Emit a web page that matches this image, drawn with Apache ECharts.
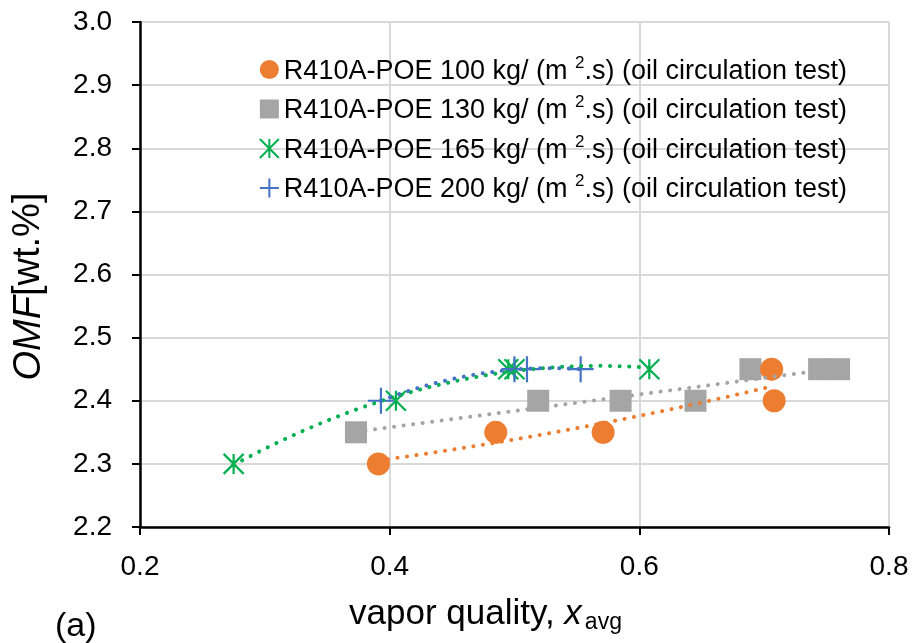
<!DOCTYPE html>
<html>
<head>
<meta charset="utf-8">
<script src="https://cdn.jsdelivr.net/npm/echarts@6/dist/echarts.min.js"></script>
<style>
html,body{margin:0;padding:0;background:#fff;}
#chart{width:914px;height:643px;}
</style>
</head>
<body>
<div id="chart"></div>
<script>
// ---- data ----
const fluxes = ['100', '130', '165', '200'];
const x100 = [0.391, 0.485, 0.571, 0.706, 0.708];
const y100 = [2.30, 2.35, 2.35, 2.45, 2.40];
const x130 = [0.373, 0.519, 0.585, 0.645, 0.689, 0.744, 0.760];
const y130 = [2.35, 2.40, 2.40, 2.40, 2.45, 2.45, 2.45];
const x165 = [0.275, 0.405, 0.495, 0.500, 0.608];
const y165 = [2.30, 2.40, 2.45, 2.45, 2.45];
const x200 = [0.393, 0.500, 0.510, 0.553];
const y200 = [2.40, 2.45, 2.45, 2.45];
const trendOrder = [2, 1, 2, 2];
const xTicks = [0.2, 0.4, 0.6, 0.8];
const yTicks = [2.2, 2.3, 2.4, 2.5, 2.6, 2.7, 2.8, 2.9, 3.0];

const colors = ['#ED7D31', '#A5A5A5', '#00B050', '#4472C4'];
const FONT = 'Liberation Sans, Arial, sans-serif';

function zip(xs, ys){ return xs.map((x,i)=>[x, ys[i]]); }

// least squares polynomial fit (Excel-style trendline)
function polyfit(xs, ys, order){
  const n = order + 1;
  const A = [];
  for (let r=0;r<n;r++){ A.push(new Array(n+1).fill(0)); }
  for (let i=0;i<xs.length;i++){
    for (let r=0;r<n;r++){
      for (let c=0;c<n;c++) A[r][c] += Math.pow(xs[i], r+c);
      A[r][n] += ys[i]*Math.pow(xs[i], r);
    }
  }
  for (let i=0;i<n;i++){
    let p=i; for (let k=i+1;k<n;k++) if (Math.abs(A[k][i])>Math.abs(A[p][i])) p=k;
    [A[i],A[p]]=[A[p],A[i]];
    for (let k=i+1;k<n;k++){ const f=A[k][i]/A[i][i]; for (let j=i;j<=n;j++) A[k][j]-=f*A[i][j]; }
  }
  const coef=new Array(n).fill(0);
  for (let i=n-1;i>=0;i--){ let s=A[i][n]; for (let j=i+1;j<n;j++) s-=A[i][j]*coef[j]; coef[i]=s/A[i][i]; }
  return coef;
}
function trend(xs, ys, order){
  const c = polyfit(xs, ys, order);
  const lo = Math.min(...xs), hi = Math.max(...xs);
  const pts = [];
  for (let i=0;i<=60;i++){
    const x = lo + (hi-lo)*i/60;
    let y = 0; for (let k=0;k<c.length;k++) y += c[k]*Math.pow(x,k);
    pts.push([x,y]);
  }
  return pts;
}

const xsAll = [x100, x130, x165, x200];
const ysAll = [y100, y130, y165, y200];
const names = fluxes.map(f => 'R410A-POE ' + f);

const starPath = 'path://M0,0L10,10M10,0L0,10M5,0L5,10';
const plusPath = 'path://M0,5L10,5M5,0L5,10';
const symbols = ['circle', 'rect', starPath, plusPath];
const symSizes = [23, 22, [20, 20], [26, 26]];
const zs = [5, 4, 3, 3];

const series = [];
for (let i=0;i<4;i++){
  const outline = i >= 2;
  series.push({
    name: names[i],
    type: 'scatter',
    data: zip(xsAll[i], ysAll[i]),
    symbol: symbols[i],
    symbolSize: symSizes[i],
    z: zs[i],
    itemStyle: outline ? {color: 'rgba(0,0,0,0)', borderColor: colors[i], borderWidth: 2.2, opacity: 1}
                       : {color: colors[i], opacity: 1},
    emphasis: {disabled: true}
  });
}
for (let i=0;i<4;i++){
  series.push({
    name: 'trend' + i,
    type: 'line',
    data: trend(xsAll[i], ysAll[i], trendOrder[i]),
    showSymbol: false,
    symbol: 'none',
    smooth: false,
    z: 6 + (i===3 ? 1 : 0),
    lineStyle: {color: colors[i], width: 4, type: [0.1, 9.5], cap: 'round'},
    emphasis: {disabled: true},
    silent: true
  });
}

const chart = echarts.init(document.getElementById('chart'), null, {renderer: 'canvas'});
chart.setOption({
  animation: false,
  backgroundColor: '#fff',
  grid: {left: 140, right: 25, top: 22, bottom: 116, containLabel: false},
  legend: {
    data: names.map((n,i)=>({name: n, icon: symbols[i],
      itemStyle: i>=2 ? {color: 'rgba(0,0,0,0)', borderColor: colors[i], borderWidth: 2} : {color: colors[i]}})),
    orient: 'vertical',
    right: 62,
    top: 49,
    itemGap: 8.5,
    itemWidth: 19,
    itemHeight: 19,
    selectedMode: false,
    formatter: function(name){
      return '{t|' + name + ' kg/ (m }{s|2}{t|.s) (oil circulation test)}';
    },
    textStyle: {
      padding: [0,0,0,0],
      rich: {
        t: {fontFamily: FONT, fontSize: 27, color: '#000', lineHeight: 30, padding: [4,0,0,0]},
        s: {fontFamily: FONT, fontSize: 17, color: '#000', lineHeight: 30, verticalAlign: 'top', padding: [0,0,0,0]}
      }
    }
  },
  xAxis: {
    type: 'value', min: xTicks[0], max: xTicks[xTicks.length-1], interval: 0.2,
    name: '{t|vapor quality, }{i|x}{s|avg}',
    nameLocation: 'middle', nameGap: 67,
    nameTextStyle: {
      padding: [0, 58, 0, 0],
      rich: {
        t: {fontFamily: FONT, fontSize: 35, color: '#000'},
        i: {fontFamily: FONT, fontSize: 35, fontStyle: 'italic', color: '#000'},
        s: {fontFamily: FONT, fontSize: 23, color: '#000', padding: [17,0,0,3]}
      }
    },
    axisLine: {show: true, lineStyle: {color: '#000', width: 2.5}},
    axisTick: {show: true, inside: false, length: 8, lineStyle: {color: '#000', width: 2}},
    axisLabel: {fontFamily: FONT, fontSize: 28, color: '#000', margin: 26, formatter: v => v.toFixed(1)},
    splitLine: {show: true, lineStyle: {color: '#D9D9D9', width: 2}}
  },
  yAxis: {
    type: 'value', min: yTicks[0], max: yTicks[yTicks.length-1], interval: 0.1,
    name: '{i|OMF}{t|[wt.%]}',
    nameLocation: 'middle', nameGap: 92, nameRotate: 90,
    nameTextStyle: {
      padding: [0, 24, 0, 0],
      rich: {
        t: {fontFamily: FONT, fontSize: 38, color: '#000'},
        i: {fontFamily: FONT, fontSize: 38, fontStyle: 'italic', color: '#000'}
      }
    },
    axisLine: {show: true, lineStyle: {color: '#000', width: 2.5}},
    axisTick: {show: true, inside: false, length: 8, lineStyle: {color: '#000', width: 2}},
    axisLabel: {fontFamily: FONT, fontSize: 28, color: '#000', margin: 28, formatter: v => v.toFixed(1)},
    splitLine: {show: true, lineStyle: {color: '#D9D9D9', width: 2}}
  },
  graphic: [{
    type: 'text', left: 55, top: 610,
    style: {text: '(a)', fontFamily: FONT, fontSize: 34, fill: '#000'}
  }],
  series: series
});
</script>
</body>
</html>
